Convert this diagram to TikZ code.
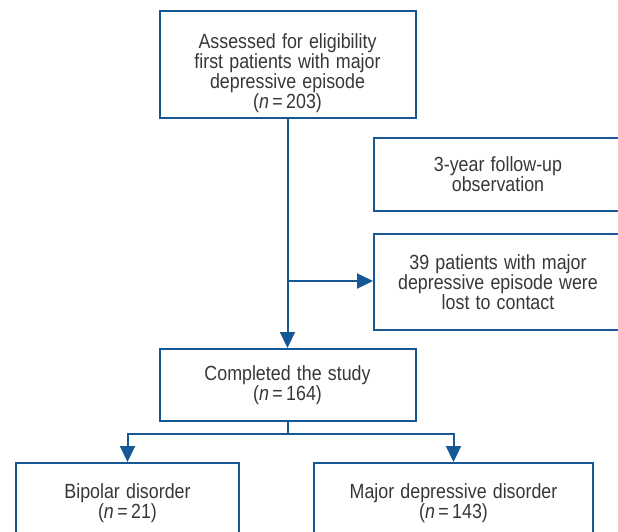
\documentclass[tikz,border=0pt]{standalone}
\usepackage{fontspec}
\setmainfont{Liberation Sans}[FakeStretch=0.87,WordSpace=1.25]
\usetikzlibrary{arrows.meta}
\definecolor{fblue}{RGB}{22,88,150}
\definecolor{ftext}{RGB}{55,55,55}
\tikzset{
  box/.style={draw=fblue, line width=2pt, rectangle, inner sep=0pt, align=center,
    text=ftext, font=\fontsize{20.5}{20}\selectfont},
  conn/.style={draw=fblue, line width=2pt},
  arr/.style={conn, -{Triangle[length=16pt,width=15pt]}},
}
\begin{document}
\begin{tikzpicture}[x=1pt,y=-1pt]
\useasboundingbox (0,0) rectangle (618,531);
\clip (0,0) rectangle (618,531);
\node[box, minimum width=256, minimum height=107] (top) at (287.5,64.5)
  {\rule{0pt}{32pt}Assessed for eligibility\\first patients with major\\depressive episode\\(\textit{n}\,=\,203)};
\node[box, minimum width=248, minimum height=73] (follow) at (498,174.5)
  {3-year follow-up\\observation};
\node[box, minimum width=248, minimum height=96] (lost) at (498,282)
  {39 patients with major\\depressive episode were\\lost to contact};
\node[box, minimum width=256, minimum height=72] (done) at (287.5,385)
  {Completed the study\\(\textit{n}\,=\,164)};
\node[box, minimum width=223, minimum height=80] (bip) at (127.5,503)
  {Bipolar disorder\\(\textit{n}\,=\,21)};
\node[box, minimum width=279, minimum height=80] (mdd) at (453.5,503)
  {Major depressive disorder\\(\textit{n}\,=\,143)};
\coordinate (branch) at (287.5,281);
\coordinate (split) at (287.5,434);
\draw[arr] (top.south) -- (done.north);
\draw[arr] (branch) -- (branch -| lost.west);
\draw[conn] (done.south) -- (split);
\draw[arr] (split) -| (bip.north);
\draw[arr] (split) -| (mdd.north);
\end{tikzpicture}
\end{document}
